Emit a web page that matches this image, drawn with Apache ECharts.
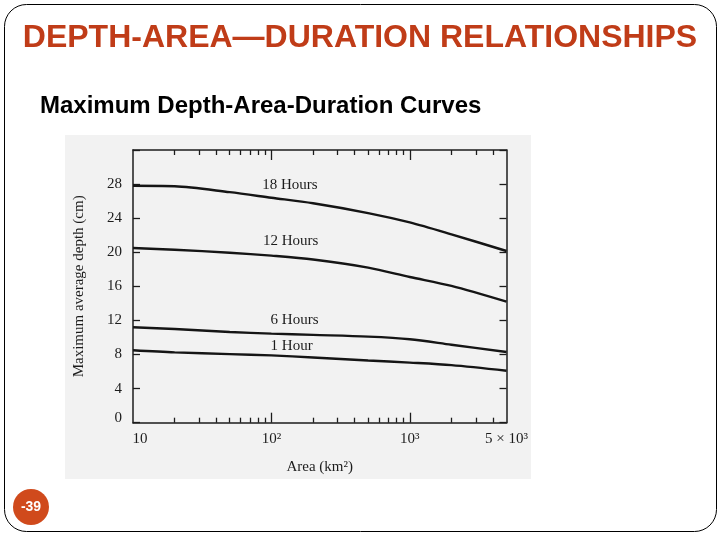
<!DOCTYPE html>
<html><head><meta charset="utf-8">
<script src="https://cdn.jsdelivr.net/npm/echarts@6/dist/echarts.min.js"></script>
<style>html,body{margin:0;padding:0;background:#fff}#c{width:720px;height:540px}</style>
</head><body><div id="c"></div><script>
// ---- data ----
const areas = [10, 20, 50, 100, 200, 500, 1000, 2000, 5000];           // km^2
const depth18h = [27.8, 27.75, 27.05, 26.4, 25.75, 24.6, 23.5, 22.1, 20.15]; // cm
const depth12h = [20.5, 20.3, 19.95, 19.6, 19.15, 18.2, 17.1, 16.05, 14.2];
const depth6h = [11.2, 11.0, 10.65, 10.45, 10.3, 10.1, 9.8, 9.15, 8.3];
const depth1h = [8.5, 8.25, 8.05, 7.9, 7.65, 7.3, 7.05, 6.75, 6.1];
const seriesNames = ['18 Hours', '12 Hours', '6 Hours', '1 Hour'];
const xTickValues = [10, 100, 1000, 5000];
const xTickLabels = ['{a|10}', '10²', '10³', '5 × 10³'];
const xMajorTicks = [100, 1000];
const xMinorTicks = [20, 30, 40, 50, 60, 70, 80, 90, 200, 300, 400, 500, 600, 700, 800, 900, 2000, 3000, 4000];
const yTickLabels = [0, 4, 8, 12, 16, 20, 24, 28];

// ---- chart ----
const serif = '"Liberation Serif", "Times New Roman", serif';
const ink = '#1c1c1c';
const pairs = (ys) => areas.map((a, i) => [a, ys[i]]);

function logAxis(position, ticks, len, showLine, extra) {
  return Object.assign({
    type: 'log', logBase: 10, min: 10, max: 5000, position: position,
    axisLine: { show: showLine, lineStyle: { color: ink, width: 1.5 } },
    axisTick: { show: true, inside: true, length: len, customValues: ticks, lineStyle: { color: ink, width: 1.3 } },
    axisLabel: { show: false },
    splitLine: { show: false }, minorTick: { show: false }, minorSplitLine: { show: false }
  }, extra || {});
}

const labelAnchors = {
  '18 Hours': [136, 27.9],
  '12 Hours': [138, 21.3],
  '6 Hours': [147, 12.1],
  '1 Hour': [140, 9.0]
};

const chart = echarts.init(document.getElementById('c'), null, { renderer: 'canvas' });
const allDepths = [depth18h, depth12h, depth6h, depth1h];

chart.setOption({
  animation: false,
  backgroundColor: '#ffffff',
  grid: { left: 133, top: 150, width: 373.5, height: 272.7, containLabel: false },
  xAxis: [
    logAxis('bottom', xMajorTicks, 10, true, {
      axisLabel: {
        show: true, customValues: xTickValues, margin: 9,
        formatter: (v) => { const i = xTickValues.findIndex(t => Math.abs(t - v) / t < 1e-6); return i >= 0 ? xTickLabels[i] : ''; },
        fontFamily: serif, fontSize: 15, color: ink,
        rich: { a: { fontFamily: serif, fontSize: 15, color: ink, padding: [0, 0, 0, 14] } }
      },
      name: 'Area (km²)', nameLocation: 'middle', nameGap: 37,
      nameTextStyle: { fontFamily: serif, fontSize: 15, color: ink }
    }),
    logAxis('bottom', xMinorTicks, 5, false),
    logAxis('top', xMajorTicks, 10, true),
    logAxis('top', xMinorTicks, 5, false)
  ],
  yAxis: [
    {
      type: 'value', min: 0, max: 32, interval: 4, position: 'left',
      axisLine: { show: true, lineStyle: { color: ink, width: 1.5 } },
      axisTick: { show: true, inside: true, length: 7, lineStyle: { color: ink, width: 1.3 } },
      axisLabel: {
        show: true, customValues: yTickLabels, margin: 11,
        formatter: (v) => v === 0 ? '{z|0}' : String(v),
        fontFamily: serif, fontSize: 15, color: ink,
        rich: { z: { fontFamily: serif, fontSize: 15, color: ink, padding: [0, 0, 10, 0] } }
      },
      splitLine: { show: false },
      name: 'Maximum average depth (cm)', nameLocation: 'middle', nameGap: 46, nameRotate: 90,
      nameTextStyle: { fontFamily: serif, fontSize: 15, color: ink }
    },
    {
      type: 'value', min: 0, max: 32, interval: 4, position: 'right',
      axisLine: { show: true, lineStyle: { color: ink, width: 1.5 } },
      axisTick: { show: true, inside: true, length: 7, lineStyle: { color: ink, width: 1.3 } },
      axisLabel: { show: false }, splitLine: { show: false }
    }
  ],
  series: seriesNames.map((name, i) => ({
    name: name, type: 'line', xAxisIndex: 0, yAxisIndex: 0,
    data: pairs(allDepths[i]),
    showSymbol: false, smooth: 0.3,
    lineStyle: { color: '#151515', width: 2.4 },
    markPoint: {
      symbol: 'circle', symbolSize: 0, silent: true,
      label: { show: true, position: 'inside', formatter: '{b}', fontFamily: serif, fontSize: 15, color: ink },
      data: [{ name: name, coord: labelAnchors[name] }]
    }
  })),
  graphic: [
    { type: 'rect', z: -10, silent: true, shape: { x: 4.5, y: 4.5, width: 712, height: 527, r: 22 }, style: { fill: '#ffffff', stroke: '#000', lineWidth: 1 } },
    { type: 'rect', z: -9, silent: true, shape: { x: 65, y: 135, width: 466, height: 344 }, style: { fill: '#f2f2f2' } },
    { type: 'text', x: 360, y: 38, style: { text: 'DEPTH-AREA—DURATION RELATIONSHIPS', fill: '#C03C18', font: 'bold 32px "Liberation Sans", Arial, sans-serif', align: 'center', verticalAlign: 'middle' } },
    { type: 'text', x: 40, y: 106, style: { text: 'Maximum Depth-Area-Duration Curves', fill: '#000', font: 'bold 24px "Liberation Sans", Arial, sans-serif', align: 'left', verticalAlign: 'middle' } },
    { type: 'circle', shape: { cx: 31, cy: 507, r: 18 }, style: { fill: '#D04A1C' } },
    { type: 'text', x: 31, y: 507, style: { text: '-39', fill: '#fff', font: 'bold 14px "Liberation Sans", Arial, sans-serif', align: 'center', verticalAlign: 'middle' } }
  ]
});
</script></body></html>
